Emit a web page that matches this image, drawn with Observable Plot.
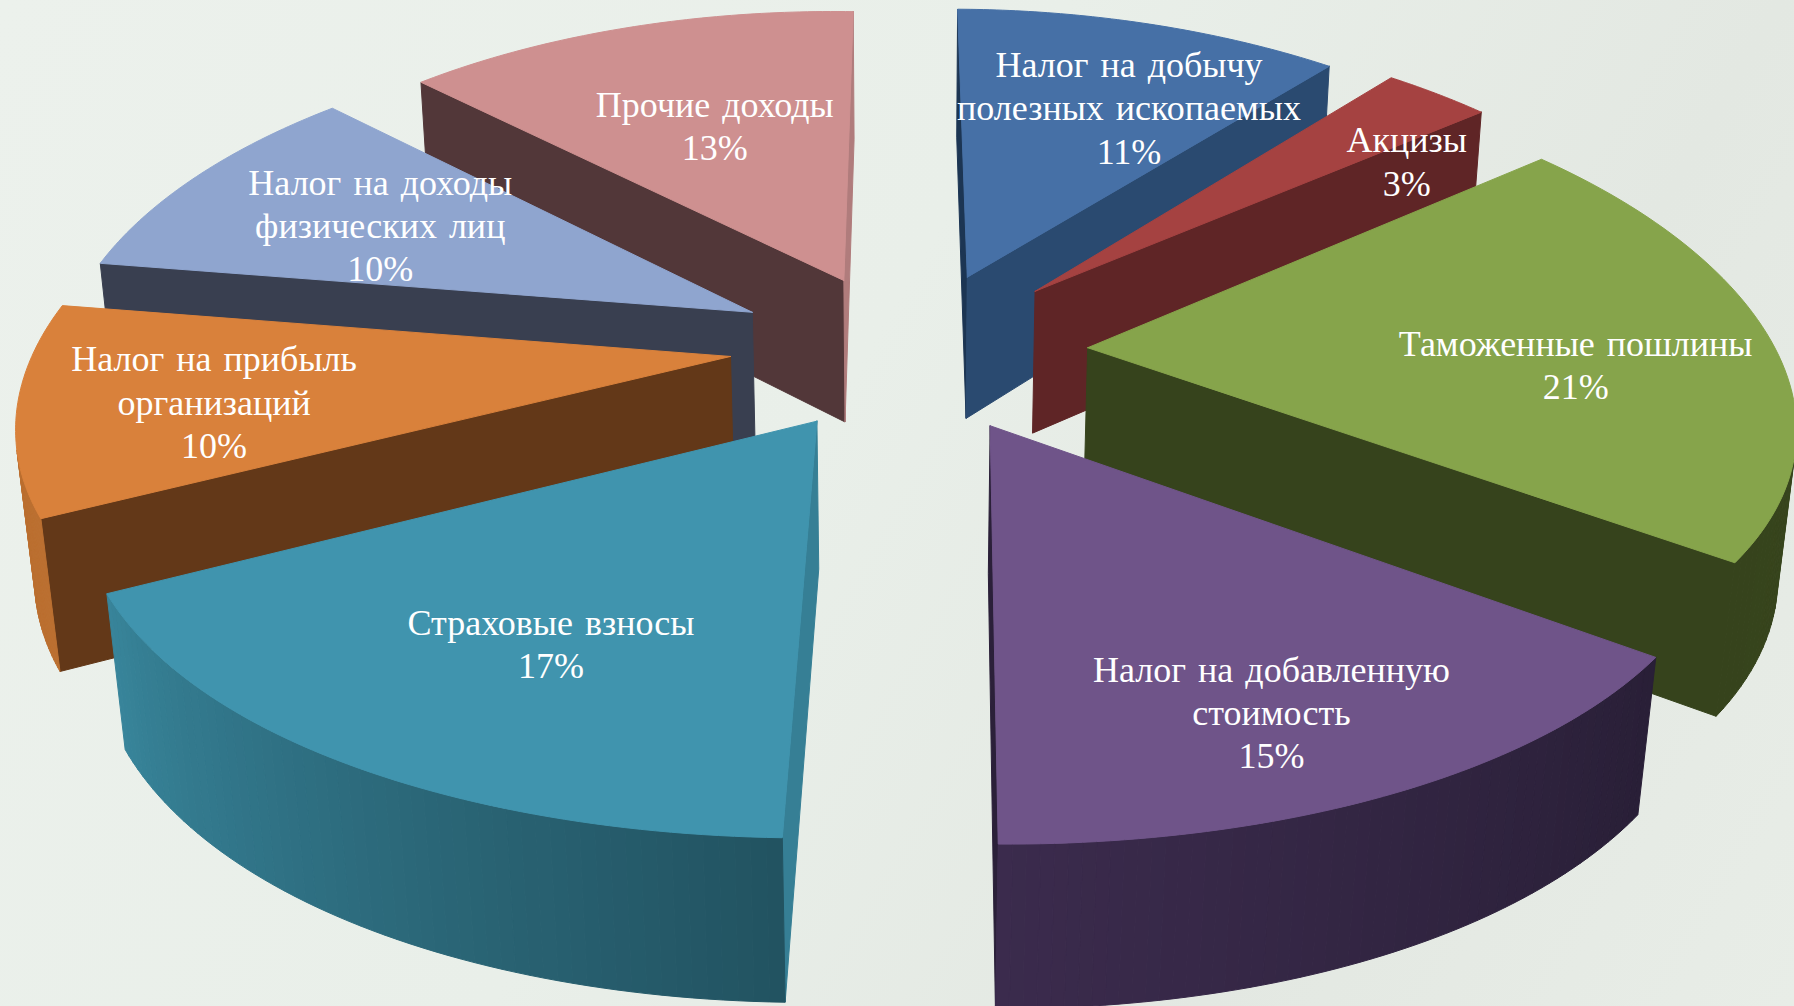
<!DOCTYPE html>
<html><head><meta charset="utf-8">
<script src="https://cdn.jsdelivr.net/npm/d3@7"></script>
<script src="https://cdn.jsdelivr.net/npm/@observablehq/plot@0.6"></script>
<style>html,body{margin:0;padding:0;overflow:hidden;background:linear-gradient(120deg,#ecf1ec,#e9efe9 45%,#e3e8e2 75%,#e8ede7);}</style>
</head><body><div id="c"></div>
<script>
const labels=["Налог на добычу\nполезных ископаемых","Акцизы","Таможенные пошлины","Налог на добавленную\nстоимость","Страховые взносы","Налог на прибыль\nорганизаций","Налог на доходы\nфизических лиц","Прочие доходы"];
const values=[11,3,21,15,17,10,10,13];
const topColors=["#4670a6","#a54241","#86a44b","#6f5489","#4094ae","#d9813b","#8fa5cf","#ce9090"];
const wallStart=["#1c3553","#5f2526","#36431c","#2b2039","#367f95","#633818","#393f50","#523739"];
const wallEnd=["#2a4a70","#5f2526","#36431c","#2b2039","#26596a","#633818","#393f50","#b07c7c"];
const sideA=["#3a5f8e","#8a3534","#3a4a1f","#291f37","#225361","#bb6f30","#7487ad","#b87c7c"];
const sideB=["#3a5f8e","#8a3534","#36431c","#3b2b4d","#38859b","#bb6f30","#7487ad","#b87c7c"];
const explode=[.23,.26,.26,.25,.24,.24,.23,.2];
const nudgeU=[.017,.012,.006,.006,.001,-.015,-.017,-.012];
const nudgeV=[-.012,0,0,0,.008,-.016,-.01,-.03];
const labelR=[.67,.77,.702,.786,.659,.731,.648,.582];
const labelShift=[5.1,8.7,5.1,2.4,-2.9,-1.3,-.6,.9];

const cx=904,cy=349,Sx=690,Sy=329,Szh=147.5,k=.152,kx=.19,mh=.0205,rollL=.015,rollR=.005,drift=9.15;
function proj(u,v,low){
  const m=low?mh:0;
  const x=cx+Sx*u/(1-kx*v+m)-drift*Math.max(v,0)**2;
  const y=cy+(Sy*v+(low?Szh:0))/(1-k*v+m)+(x<cx?rollL:rollR)*(x-cx);
  return [x,y];
}
const total=d3.sum(values);let acc=0;
const slices=values.map((val,i)=>{const a0=acc/total*2*Math.PI;acc+=val;const a1=acc/total*2*Math.PI;return {i,a0,a1,mid:(a0+a1)/2};});
const pl=(s,r,a)=>({u:nudgeU[s.i]+explode[s.i]*Math.sin(s.mid)+r*Math.sin(a),v:nudgeV[s.i]-explode[s.i]*Math.cos(s.mid)-r*Math.cos(a)});
const polys=[];let id=0;
function add(pts,fill){polys.push({pts:pts.map(q=>proj(q.u,q.v,q.low)),fill,id:id++});}
const area=pts=>{let s=0;pts.forEach((q,j)=>{const n=pts[(j+1)%pts.length];const A=proj(q.u,q.v,q.low),B=proj(n.u,n.v,n.low);s+=A[0]*B[1]-B[0]*A[1];});return s;};
const order=slices.slice().sort((a,b)=>pl(a,.6,a.mid).v-pl(b,.6,b.mid).v);
order.forEach(s=>{
  const c=pl(s,0,0);const arc=d3.range(0,61).map(j=>pl(s,1,s.a0+(s.a1-s.a0)*j/60));
  const first=arc[0],last=arc[60];
  const w0=[{...c,low:0},{...first,low:0},{...first,low:1},{...c,low:1}];
  const w1=[{...last,low:0},{...c,low:0},{...c,low:1},{...last,low:1}];
  if(area(w0)<0) add(w0,wallStart[s.i]);
  if(area(w1)<0) add(w1,wallEnd[s.i]);
  for(let j=0;j<60;j++){const q=[{...arc[j],low:0},{...arc[j+1],low:0},{...arc[j+1],low:1},{...arc[j],low:1}];
    if(area(q)<0) add(q,d3.interpolateRgb(sideA[s.i],sideB[s.i])(j/60));}
  add([{...c,low:0},...arc.map(q=>({...q,low:0}))],topColors[s.i]);
});
const rows=polys.flatMap(P=>[...P.pts,P.pts[0]].map(q=>({x:q[0],y:q[1],id:P.id,fill:P.fill})));
const textRows=slices.map(s=>{const p=pl(s,labelR[s.i],s.mid+labelShift[s.i]*Math.PI/180);const q=proj(p.u,p.v,0);return {x:q[0],y:q[1],text:labels[s.i]+"\n"+values[s.i]+"%"};});
const chart=Plot.plot({width:1794,height:1006,margin:0,style:{background:"transparent",fontFamily:"'Liberation Serif',serif",wordSpacing:"3px"},
 x:{type:"linear",domain:[0,1794],range:[0,1794],axis:null},y:{type:"linear",domain:[0,1006],range:[0,1006],axis:null},
 marks:[
  Plot.line(rows,{x:"x",y:"y",z:"id",fill:"fill",stroke:"fill",strokeWidth:1,curve:"linear"}),
  Plot.text(textRows,{x:"x",y:"y",text:"text",fill:"white",fontSize:36,lineHeight:1.2,textAnchor:"middle"})
 ]});
document.getElementById("c").appendChild(chart);
</script></body></html>
